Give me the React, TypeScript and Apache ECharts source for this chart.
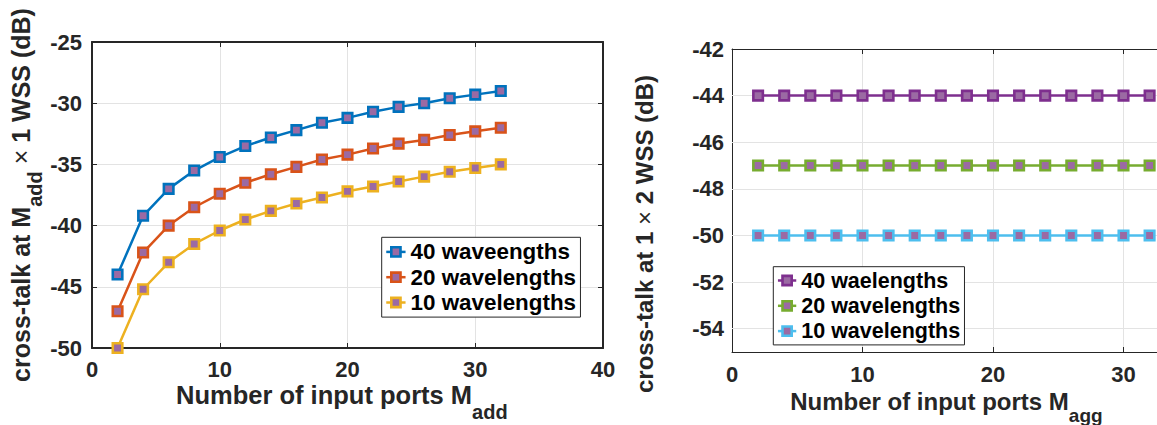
import React, { useEffect, useRef } from "react";
import * as echarts from "echarts";

// ---------- data ----------
const ports = [2, 4, 6, 8, 10, 12, 14, 16, 18, 20, 22, 24, 26, 28, 30, 32];

const addNames = ["40 waveengths", "20 wavelengths", "10 wavelengths"];
const add40 = [-44.0, -39.2, -37.0, -35.5, -34.4, -33.5, -32.8, -32.2, -31.6, -31.2, -30.7, -30.3, -30.0, -29.6, -29.3, -29.0];
const add20 = [-47.0, -42.2, -40.0, -38.5, -37.4, -36.5, -35.8, -35.2, -34.6, -34.2, -33.7, -33.3, -33.0, -32.6, -32.3, -32.0];
const add10 = [-50.0, -45.2, -43.0, -41.5, -40.4, -39.5, -38.8, -38.2, -37.7, -37.2, -36.8, -36.4, -36.0, -35.6, -35.3, -35.0];

const aggNames = ["40 waelengths", "20 wavelengths", "10 wavelengths"];
const agg40 = [-44, -44, -44, -44, -44, -44, -44, -44, -44, -44, -44, -44, -44, -44, -44, -44];
const agg20 = [-47, -47, -47, -47, -47, -47, -47, -47, -47, -47, -47, -47, -47, -47, -47, -47];
const agg10 = [-50, -50, -50, -50, -50, -50, -50, -50, -50, -50, -50, -50, -50, -50, -50, -50];

const aggXTicks = [0, 10, 20, 30];
const aggYTicks = [-54, -52, -50, -48, -46, -44, -42];

// ---------- styles ----------
const FONT = "Liberation Sans";
const AXIS = "#262626";
const GRID = "#e3e3e3";
const FACE = "#9B6AA3";
const addColors = ["#0072BD", "#D95319", "#EDB120"];
const aggColors = ["#7E2F8E", "#77AC30", "#4DBEEE"];

let ctx: CanvasRenderingContext2D | null = null;
function measure(text: string, size: number, weight: string) {
  if (!ctx) ctx = document.createElement("canvas").getContext("2d");
  if (!ctx) return text.length * size * 0.6;
  ctx.font = `${weight} ${size}px "${FONT}"`;
  return ctx.measureText(text).width;
}

type Seg = { t: string; s: number; w?: string; dy?: number; gap?: number };

function titleGroup(segs: Seg[], x: number, y: number, rotation: number, centered: boolean) {
  const widths = segs.map((sg) => measure(sg.t, sg.s, sg.w || "bold"));
  const gaps = segs.map((sg) => (sg.gap ? sg.gap * measure(" ", sg.s, sg.w || "bold") : 0));
  const total = widths.reduce((a, b) => a + b, 0) + gaps.reduce((a, b) => a + b, 0);
  let cx = centered ? -total / 2 : 0;
  const children = segs.map((sg, i) => {
    cx += gaps[i];
    const el = {
      type: "text",
      x: cx,
      y: sg.dy || 0,
      silent: true,
      style: {
        text: sg.t,
        fontFamily: FONT,
        fontWeight: sg.w || "bold",
        fontSize: sg.s,
        fill: AXIS,
        align: "left",
        verticalAlign: "middle",
      },
    };
    cx += widths[i];
    return el;
  });
  return { type: "group", x, y, rotation, silent: true, children };
}

const tickLabel = { color: AXIS, fontFamily: FONT, fontWeight: "bold", fontSize: 22 };

function makeSeries(name: string, vals: number[], color: string) {
  return {
    type: "line",
    name,
    data: ports.map((p, i) => [p, vals[i]]),
    symbol: "rect",
    symbolSize: 9.5,
    showSymbol: true,
    clip: false,
    silent: true,
    z: 3,
    lineStyle: { color, width: 2.5 },
    itemStyle: { color: FACE, borderColor: color, borderWidth: 2.6 },
    emphasis: { disabled: true },
  };
}

function xAxes(lineW: number, margin: number, custom?: number[]) {
  const line = { show: true, onZero: false, lineStyle: { color: AXIS, width: lineW } };
  const tick = { show: true, inside: true, length: 5, lineStyle: { color: AXIS, width: 1 } };
  const label: any = { ...tickLabel, margin };
  if (custom) label.customValues = custom;
  return [
    {
      type: "value", min: 0, max: 40, interval: 10, position: "bottom",
      axisLine: line, axisTick: tick,
      axisLabel: label,
      splitLine: { show: true, showMinLine: false, showMaxLine: false, lineStyle: { color: GRID, width: 1 } },
    },
    {
      type: "value", min: 0, max: 40, interval: 10, position: "top",
      axisLine: line, axisTick: tick, axisLabel: { show: false }, splitLine: { show: false },
    },
  ];
}

function legendBase(left: number, top: number, itemWidth: number, itemGap: number, padding: number[], fontSize: number, names: string[]) {
  return {
    orient: "vertical",
    left,
    top,
    itemWidth,
    itemHeight: 11.5,
    itemGap,
    padding,
    borderColor: AXIS,
    borderWidth: 1,
    borderRadius: 0,
    backgroundColor: "#ffffff",
    selectedMode: false,
    textStyle: { fontFamily: FONT, fontWeight: "bold", fontSize, color: "#000" },
    itemStyle: { borderWidth: 2.6 },
    lineStyle: { width: 2.5 },
    data: names,
  };
}

function leftOption() {
  const line = { show: true, onZero: false, lineStyle: { color: AXIS, width: 2 } };
  const tick = { show: true, inside: true, length: 5, lineStyle: { color: AXIS, width: 1 } };
  return {
    animation: false,
    grid: { left: 92, top: 42, width: 511, height: 306, containLabel: false, outerBoundsMode: "none" },
    xAxis: xAxes(2, 10.4),
    yAxis: [
      {
        type: "value", min: -50, max: -25, interval: 5, position: "left",
        axisLine: line, axisTick: tick,
        axisLabel: { ...tickLabel, margin: 10 },
        splitLine: { show: true, showMinLine: false, showMaxLine: false, lineStyle: { color: GRID, width: 1 } },
      },
      {
        type: "value", min: -50, max: -25, interval: 5, position: "right",
        axisLine: line, axisTick: tick, axisLabel: { show: false }, splitLine: { show: false },
      },
    ],
    legend: legendBase(381.7, 237.3, 19.3, 3.3, [3.6, 4.4, 3.6, 3.3], 22.4, addNames),
    graphic: [
      titleGroup(
        [
          { t: "cross-talk at M", s: 25 },
          { t: "add", s: 20, dy: 13.5 },
          { t: "\u00d7", s: 25, w: "normal", gap: 1 },
          { t: "1 WSS (dB)", s: 25, gap: 1 },
        ],
        21.3, 195, Math.PI / 2, true
      ),
      titleGroup(
        [
          { t: "Number of input ports M", s: 25.5 },
          { t: "add", s: 20, dy: 17.3 },
        ],
        176, 395, 0, false
      ),
    ],
    series: [
      makeSeries(addNames[0], add40, addColors[0]),
      makeSeries(addNames[1], add20, addColors[1]),
      makeSeries(addNames[2], add10, addColors[2]),
    ],
  };
}

function rightOption() {
  const line = { show: true, onZero: false, lineStyle: { color: AXIS, width: 1 } };
  const tick = { show: true, inside: true, length: 5, lineStyle: { color: AXIS, width: 1 } };
  const s0: any = makeSeries(aggNames[0], agg40, aggColors[0]);
  s0.markLine = {
    silent: true,
    z: 1,
    symbol: ["none", "none"],
    label: { show: false },
    emphasis: { disabled: true },
    lineStyle: { color: GRID, width: 1, type: "solid" },
    data: aggYTicks.filter((v) => v < -42).map((v) => ({ yAxis: v })),
  };
  return {
    animation: false,
    grid: { left: 107, top: 49, width: 522, height: 303, containLabel: false, outerBoundsMode: "none" },
    xAxis: xAxes(1, 11.4, aggXTicks),
    yAxis: [
      {
        type: "value", min: -55, max: -42, position: "left",
        axisLine: line,
        axisTick: { ...tick, customValues: aggYTicks },
        axisLabel: { ...tickLabel, margin: 8, customValues: aggYTicks },
        splitLine: { show: false },
      },
    ],
    legend: legendBase(148.3, 266.7, 18.3, 3.3, [2.8, 4.3, 2.8, 3.4], 21.5, aggNames),
    graphic: [
      titleGroup(
        [
          { t: "cross-talk at 1", s: 24 },
          { t: "\u00d7", s: 24, w: "normal", gap: 1 },
          { t: "2 WSS (dB)", s: 24, gap: 1 },
        ],
        19.7, 234, Math.PI / 2, true
      ),
      titleGroup(
        [
          { t: "Number of input ports M", s: 24 },
          { t: "agg", s: 19, dy: 13.4 },
        ],
        165.2, 401.7, 0, false
      ),
    ],
    series: [
      s0,
      makeSeries(aggNames[1], agg20, aggColors[1]),
      makeSeries(aggNames[2], agg10, aggColors[2]),
    ],
  };
}

export default function App() {
  const leftRef = useRef<HTMLDivElement>(null);
  const rightRef = useRef<HTMLDivElement>(null);
  useEffect(() => {
    const l = echarts.init(leftRef.current!, null, { renderer: "svg" });
    const r = echarts.init(rightRef.current!, null, { renderer: "svg" });
    l.setOption(leftOption() as any);
    r.setOption(rightOption() as any);
    return () => {
      l.dispose();
      r.dispose();
    };
  }, []);
  return (
    <div style={{ position: "fixed", left: 0, top: 0, width: 1157, height: 425, overflow: "hidden", background: "#fff" }}>
      <div ref={leftRef} style={{ position: "absolute", left: 0, top: 0, width: 625, height: 425 }} />
      <div ref={rightRef} style={{ position: "absolute", left: 625, top: 0, width: 532, height: 425, overflow: "hidden" }} />
    </div>
  );
}
